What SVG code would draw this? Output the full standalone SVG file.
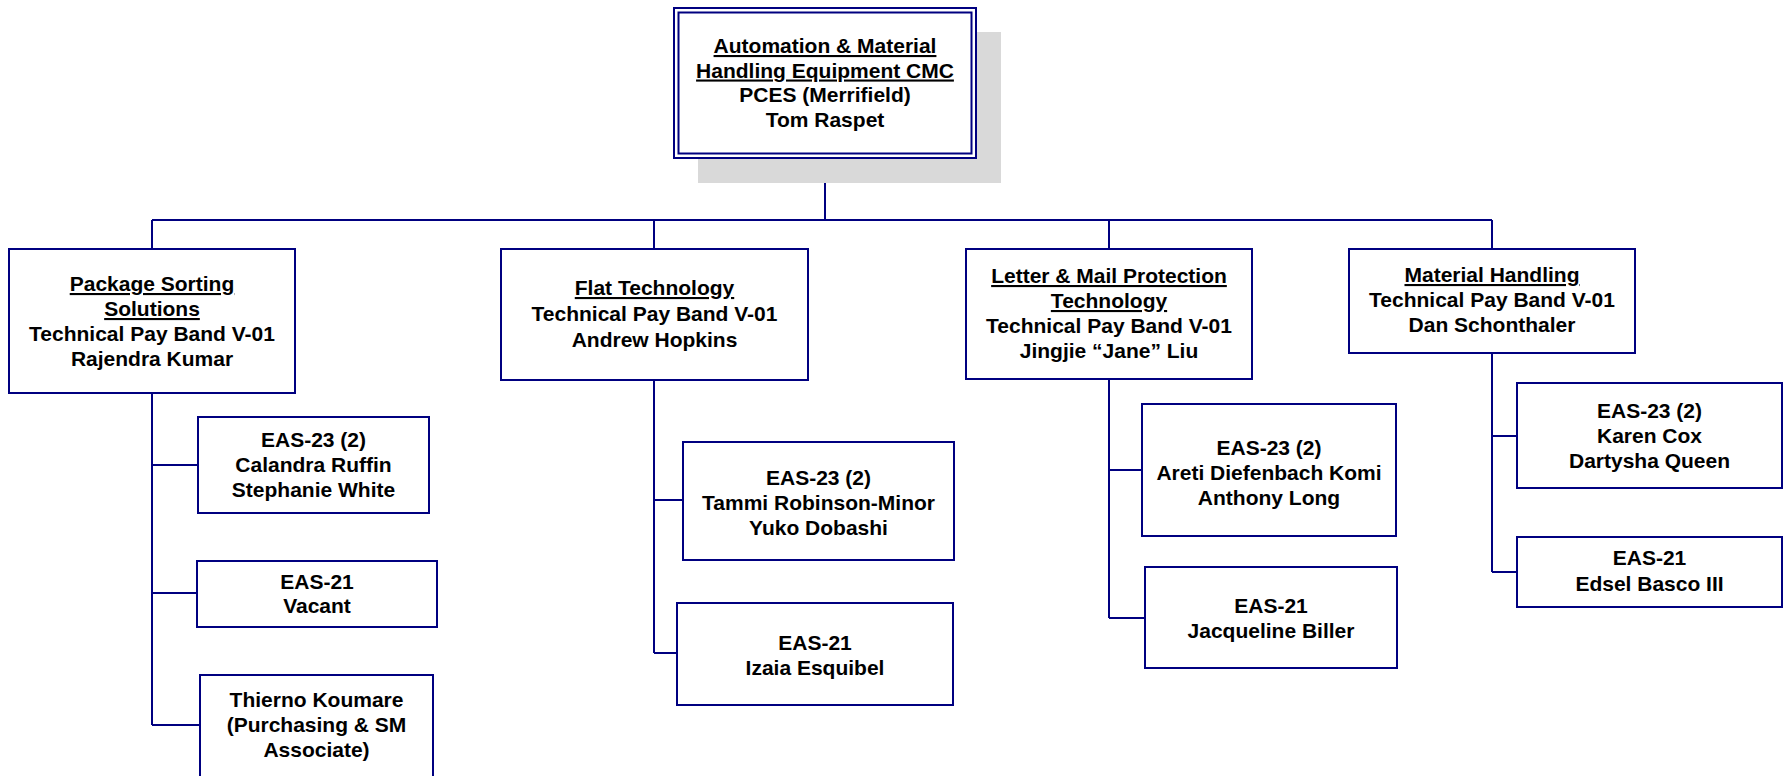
<svg xmlns="http://www.w3.org/2000/svg" width="1792" height="776" viewBox="0 0 1792 776">
<style>
.box{fill:#ffffff;stroke:#000080;stroke-width:2}
.ln{fill:none;stroke:#000080;stroke-width:2}
text{font-family:"Liberation Sans",Arial,sans-serif;font-size:21px;font-weight:bold;fill:#000000;text-anchor:middle}
.u{text-decoration:underline}
</style>
<rect width="1792" height="776" fill="#ffffff"/>
<g id="connectors">
<path class="ln" d="M825 158V220M152 220H1492M152 220V249M654 220V249M1109 220V249M1492 220V249"/>
<path class="ln" d="M152 393V725M152 465H198M152 593H197M152 725H200"/>
<path class="ln" d="M654 380V653M654 500H683M654 653H677"/>
<path class="ln" d="M1109 379V618M1109 470H1142M1109 618H1145"/>
<path class="ln" d="M1492 353V572M1492 436H1517M1492 572H1517"/>
</g>
<g id="top">
<rect x="698" y="32" width="303" height="151" fill="#d9d9d9"/>
<rect class="box" x="674" y="8" width="302" height="150"/>
<rect class="box" x="678.5" y="12.5" width="293" height="141"/>
<text x="825" y="53" class="u">Automation &amp; Material</text>
<text x="825" y="77.5" class="u">Handling Equipment CMC</text>
<text x="825" y="102">PCES (Merrifield)</text>
<text x="825" y="126.5">Tom Raspet</text>
</g>
<g id="package">
<rect class="box" x="9" y="249" width="286" height="144"/>
<text x="152" y="291" class="u">Package Sorting</text>
<text x="152" y="316" class="u">Solutions</text>
<text x="152" y="341">Technical Pay Band V-01</text>
<text x="152" y="366">Rajendra Kumar</text>
</g>
<g id="flat">
<rect class="box" x="501" y="249" width="307" height="131"/>
<text x="654.5" y="295" class="u">Flat Technology</text>
<text x="654.5" y="321">Technical Pay Band V-01</text>
<text x="654.5" y="347">Andrew Hopkins</text>
</g>
<g id="letter">
<rect class="box" x="966" y="249" width="286" height="130"/>
<text x="1109" y="283" class="u">Letter &amp; Mail Protection</text>
<text x="1109" y="308" class="u">Technology</text>
<text x="1109" y="333">Technical Pay Band V-01</text>
<text x="1109" y="358">Jingjie “Jane” Liu</text>
</g>
<g id="material">
<rect class="box" x="1349" y="249" width="286" height="104"/>
<text x="1492" y="282" class="u">Material Handling</text>
<text x="1492" y="307">Technical Pay Band V-01</text>
<text x="1492" y="332">Dan Schonthaler</text>
</g>
<g id="pkg-eas23">
<rect class="box" x="198" y="417" width="231" height="96"/>
<text x="313.5" y="447">EAS-23 (2)</text>
<text x="313.5" y="472">Calandra Ruffin</text>
<text x="313.5" y="497">Stephanie White</text>
</g>
<g id="pkg-eas21">
<rect class="box" x="197" y="561" width="240" height="66"/>
<text x="317" y="589">EAS-21</text>
<text x="317" y="613">Vacant</text>
</g>
<g id="pkg-thierno">
<rect class="box" x="200" y="675" width="233" height="112"/>
<text x="316.5" y="707">Thierno Koumare</text>
<text x="316.5" y="732">(Purchasing &amp; SM</text>
<text x="316.5" y="757">Associate)</text>
</g>
<g id="flat-eas23">
<rect class="box" x="683" y="442" width="271" height="118"/>
<text x="818.5" y="485">EAS-23 (2)</text>
<text x="818.5" y="510">Tammi Robinson-Minor</text>
<text x="818.5" y="535">Yuko Dobashi</text>
</g>
<g id="flat-eas21">
<rect class="box" x="677" y="603" width="276" height="102"/>
<text x="815" y="650">EAS-21</text>
<text x="815" y="675">Izaia Esquibel</text>
</g>
<g id="letter-eas23">
<rect class="box" x="1142" y="404" width="254" height="132"/>
<text x="1269" y="455">EAS-23 (2)</text>
<text x="1269" y="480">Areti Diefenbach Komi</text>
<text x="1269" y="505">Anthony Long</text>
</g>
<g id="letter-eas21">
<rect class="box" x="1145" y="567" width="252" height="101"/>
<text x="1271" y="613">EAS-21</text>
<text x="1271" y="638">Jacqueline Biller</text>
</g>
<g id="mat-eas23">
<rect class="box" x="1517" y="383" width="265" height="105"/>
<text x="1649.5" y="418">EAS-23 (2)</text>
<text x="1649.5" y="443">Karen Cox</text>
<text x="1649.5" y="468">Dartysha Queen</text>
</g>
<g id="mat-eas21">
<rect class="box" x="1517" y="537" width="265" height="70"/>
<text x="1649.5" y="565">EAS-21</text>
<text x="1649.5" y="591">Edsel Basco III</text>
</g>
</svg>
